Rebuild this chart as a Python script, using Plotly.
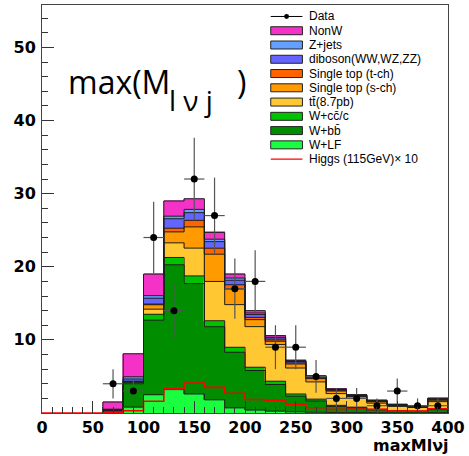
import plotly.graph_objects as go

# ---- binning (20-wide bins of maxMlvj, 60..400 populated) ----
bin_lo = [60, 80, 100, 120, 140, 160, 180, 200, 220, 240, 260, 280, 300, 320, 340, 360, 380]
bin_width = 20

# ---- stacked backgrounds, bottom to top ----
w_lf     = [0.05, 0.8, 2.5, 3.2, 2.6, 1.8, 0.7, 0.4, 0.25, 0.15, 0.1, 0.05, 0.05, 0.04, 0.02, 0.02, 0.05]
w_bb     = [0.25, 3.2, 10.2, 17.07, 15.1, 10.0, 7.61, 5.41, 3.65, 2.15, 1.55, 0.85, 0.65, 0.38, 0.23, 0.19, 0.4]
w_cc     = [0.05, 0.2, 0.8, 1.0, 1.05, 0.82, 0.68, 0.45, 0.45, 0.3, 0.25, 0.15, 0.1, 0.08, 0.05, 0.04, 0.1]
ttbar    = [0.05, 0.05, 0.7, 2.0, 3.8, 5.37, 5.83, 5.55, 5.01, 3.55, 2.35, 1.6, 1.2, 0.85, 0.6, 0.5, 1.0]
stop_s   = [0.05, 0.05, 0.6, 1.5, 2.9, 3.73, 2.14, 0.96, 0.45, 0.55, 0.45, 0.35, 0.25, 0.2, 0.13, 0.1, 0.2]
stop_t   = [0.0, 0.05, 0.1, 0.5, 0.9, 0.82, 0.58, 0.31, 0.19, 0.15, 0.1, 0.1, 0.08, 0.05, 0.04, 0.03, 0.05]
diboson  = [0.05, 0.3, 0.8, 1.3, 1.05, 0.9, 0.62, 0.4, 0.26, 0.2, 0.15, 0.12, 0.1, 0.08, 0.05, 0.04, 0.1]
zjets    = [0.0, 0.3, 0.35, 0.35, 0.45, 0.33, 0.3, 0.2, 0.1, 0.05, 0.05, 0.03, 0.02, 0.02, 0.02, 0.01, 0.03]
nonw     = [1.0, 3.15, 2.95, 2.08, 1.45, 0.93, 0.54, 0.32, 0.23, 0.1, 0.1, 0.05, 0.05, 0.05, 0.03, 0.02, 0.1]

# ---- observed data ----
data_counts = [4, 3, 24, 14, 32, 27, 17, 18, 9, 9, 5, 2, 2, 1, 3, 1, 1]

# ---- Higgs (115 GeV) x 10, full range 0..400 ----
higgs_lo = [0, 20, 40, 60, 80, 100, 120, 140, 160, 180, 200, 220, 240, 260, 280, 300, 320, 340, 360, 380]
higgs_x10 = [0, 0, 0, 0.05, 0.3, 1.6, 3.3, 4.1, 3.5, 2.7, 1.85, 1.72, 1.17, 0.72, 0.5, 0.55, 0.5, 0.26, 0.26, 0.58]

# legend labels, top to bottom
legend_labels = ["Data", "NonW", "Z+jets", "diboson(WW,WZ,ZZ)", "Single top (t-ch)",
                 "Single top (s-ch)", "tt̄(8.7pb)", "W+cc̄/c", "W+bb̄", "W+LF",
                 "Higgs (115GeV)× 10"]

colors = {
    "W+LF": "#19ff3f", "W+bb̄": "#008d00", "W+cc̄/c": "#00c300", "tt̄(8.7pb)": "#ffc832",
    "Single top (s-ch)": "#ff9a00", "Single top (t-ch)": "#ff6400",
    "diboson(WW,WZ,ZZ)": "#6464ff", "Z+jets": "#64a0ff", "NonW": "#f532c8",
}

components = [
    ("W+LF", w_lf), ("W+bb̄", w_bb), ("W+cc̄/c", w_cc), ("tt̄(8.7pb)", ttbar),
    ("Single top (s-ch)", stop_s), ("Single top (t-ch)", stop_t),
    ("diboson(WW,WZ,ZZ)", diboson), ("Z+jets", zjets), ("NonW", nonw),
]

centers = [lo + bin_width / 2 for lo in bin_lo]
edges_end = bin_lo[-1] + bin_width

fig = go.Figure()

# filled stack
for name, vals in components:
    col = colors[name]
    fig.add_trace(go.Bar(
        x=centers, y=vals, width=bin_width, name=name,
        marker=dict(color=col, line=dict(color=col, width=0.6)),
        showlegend=False, hoverinfo="skip",
    ))

# step outlines of each cumulative layer
cum = [0.0] * len(bin_lo)
for name, vals in components:
    cum = [c + v for c, v in zip(cum, vals)]
    xs = [bin_lo[0]] + bin_lo + [edges_end, edges_end]
    ys = [0] + cum + [cum[-1], 0]
    fig.add_trace(go.Scatter(
        x=xs, y=ys, mode="lines", line=dict(color="#1e1e1e", width=1, shape="hv"),
        showlegend=False, hoverinfo="skip",
    ))

# Higgs signal step line
hx = higgs_lo + [higgs_lo[-1] + bin_width]
hy = higgs_x10 + [higgs_x10[-1]]
fig.add_trace(go.Scatter(
    x=hx, y=hy, mode="lines", line=dict(color="#ff0000", width=1.6, shape="hv"),
    showlegend=False, hoverinfo="skip",
))

# data points with Poisson errors
fig.add_trace(go.Scatter(
    x=centers, y=data_counts, mode="markers",
    marker=dict(color="black", size=7),
    error_y=dict(type="data", array=[n ** 0.5 for n in data_counts], color="#555555", thickness=1.2, width=0),
    error_x=dict(type="constant", value=bin_width / 2, color="#555555", thickness=1.2, width=0),
    showlegend=False, hoverinfo="skip",
))

# ---- frame geometry (pixels) ----
W, H = 469, 456
L, R, T, B = 42, 17, 4, 43
pw, ph = W - L - R, H - T - B


def px(x):
    return (x - L) / pw


def py(y):
    return (H - B - y) / ph


shapes = []
annotations = []

# legend drawn as swatches + labels
row0, dy = 15.5, 14.3
for i, label in enumerate(legend_labels):
    yc = row0 + i * dy
    if label == "Data":
        shapes.append(dict(type="line", xref="paper", yref="paper",
                           x0=px(273), x1=px(305), y0=py(yc), y1=py(yc),
                           line=dict(color="black", width=1)))
        shapes.append(dict(type="circle", xref="paper", yref="paper",
                           x0=px(286.5), x1=px(291.5), y0=py(yc + 2.5), y1=py(yc - 2.5),
                           fillcolor="black", line=dict(color="black", width=0)))
    elif label.startswith("Higgs"):
        shapes.append(dict(type="line", xref="paper", yref="paper",
                           x0=px(273), x1=px(305), y0=py(yc), y1=py(yc),
                           line=dict(color="#ff0000", width=1.3)))
    else:
        shapes.append(dict(type="rect", xref="paper", yref="paper",
                           x0=px(273), x1=px(305), y0=py(yc + 4), y1=py(yc - 4),
                           fillcolor=colors[label], line=dict(color="#222222", width=1)))
    annotations.append(dict(xref="paper", yref="paper", x=px(310), y=py(yc),
                            xanchor="left", yanchor="middle", showarrow=False, text=label,
                            font=dict(family="Liberation Sans", size=12, color="black")))

# big label: max(M_lvj)
title_font = dict(family="Open Sans", size=32, color="black")
annotations.append(dict(xref="paper", yref="paper", x=px(66), y=py(81),
                        xanchor="left", yanchor="middle", showarrow=False,
                        text="max(M", font=title_font))
annotations.append(dict(xref="paper", yref="paper", x=px(168), y=py(99),
                        xanchor="left", yanchor="middle", showarrow=False,
                        text="l ν j", font=dict(family="Open Sans", size=28, color="black")))
annotations.append(dict(xref="paper", yref="paper", x=px(250), y=py(81),
                        xanchor="right", yanchor="middle", showarrow=False,
                        text=")", font=title_font))

# x-axis title
annotations.append(dict(xref="paper", yref="paper", x=px(455), y=py(446),
                        xanchor="right", yanchor="middle", showarrow=False,
                        text="maxMlνj",
                        font=dict(family="DejaVu Sans", size=16, color="black", weight="bold")))

tickfont = dict(family="DejaVu Sans", size=16, color="black", weight="bold")

fig.update_layout(
    width=W, height=H,
    margin=dict(l=L, r=R, t=T, b=B, pad=0),
    paper_bgcolor="white", plot_bgcolor="white",
    barmode="stack", bargap=0,
    shapes=shapes, annotations=annotations,
    xaxis=dict(range=[0, 400], tickvals=[0, 50, 100, 150, 200, 250, 300, 350, 400],
               ticks="inside", ticklen=12, tickcolor="#333333", tickwidth=1,
               minor=dict(dtick=10, ticks="inside", ticklen=6, tickcolor="#333333", tickwidth=1),
               showgrid=False, zeroline=False, showline=True, linecolor="#444444",
               linewidth=1, mirror=True, tickfont=tickfont),
    yaxis=dict(range=[0, 55.8], tickvals=[10, 20, 30, 40, 50],
               ticks="inside", ticklen=12, tickcolor="#333333", tickwidth=1,
               minor=dict(dtick=2, ticks="inside", ticklen=6, tickcolor="#333333", tickwidth=1),
               showgrid=False, zeroline=False, showline=True, linecolor="#444444",
               linewidth=1, mirror=True, tickfont=tickfont, ticklabelstandoff=2),
)

fig.write_html("out.html")
